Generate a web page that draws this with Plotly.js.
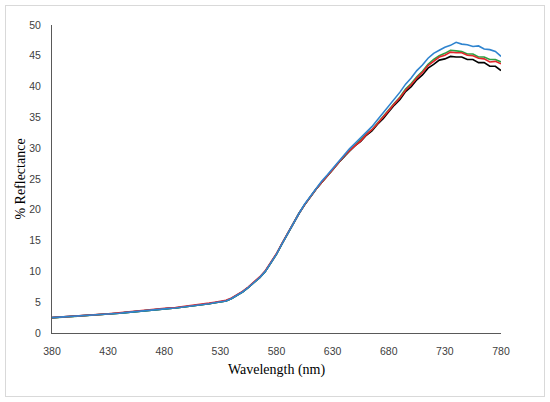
<!DOCTYPE html>
<html>
<head>
<meta charset="utf-8">
<script src="https://cdn.plot.ly/plotly-3.0.1.min.js"></script>
<style>
html,body{margin:0;padding:0;background:#fff;}
#wrap{position:relative;width:550px;height:402px;}
#chart{width:550px;height:402px;}
#frame{position:absolute;left:5px;top:5px;width:538px;height:390px;border:1px solid #d9d9d9;pointer-events:none;}
</style>
</head>
<body>
<div id="wrap"><div id="chart"></div><div id="frame"></div></div>
<script>
const wavelength = [380,385,390,395,400,405,410,415,420,425,430,435,440,445,450,455,460,465,470,475,480,485,490,495,500,505,510,515,520,525,530,535,540,545,550,555,560,565,570,575,580,585,590,595,600,605,610,615,620,625,630,635,640,645,650,655,660,665,670,675,680,685,690,695,700,705,710,715,720,725,730,735,740,745,750,755,760,765,770,775,780];

const seriesBlack = [2.5,2.55,2.6,2.65,2.7,2.75,2.8,2.85,2.9,2.95,3.0,3.1,3.2,3.3,3.4,3.5,3.6,3.7,3.75,3.85,3.9,4.0,4.05,4.15,4.25,4.35,4.45,4.6,4.75,4.9,5.0,5.2,5.6,6.1,6.7,7.4,8.2,9.0,10.0,11.3,12.8,14.5,16.2,17.9,19.4,20.8,22.1,23.3,24.4,25.4,26.5,27.6,28.6,29.5,30.4,31.1,32.1,32.8,33.9,34.8,35.9,37.0,37.9,39.2,40.0,41.1,41.9,43.0,43.6,44.3,44.5,44.9,44.8,44.8,44.4,44.4,43.9,43.9,43.3,43.3,42.6];

const seriesGreen = [2.45,2.55,2.6,2.65,2.7,2.75,2.8,2.85,2.9,2.95,3.0,3.1,3.2,3.3,3.4,3.5,3.6,3.7,3.75,3.85,3.9,4.0,4.05,4.15,4.25,4.35,4.45,4.6,4.75,4.9,5.0,5.2,5.6,6.1,6.7,7.4,8.2,9.0,10.0,11.3,12.8,14.5,16.2,17.9,19.4,20.8,22.1,23.3,24.4,25.4,26.5,27.6,28.7,29.6,30.5,31.3,32.3,33.0,34.1,35.1,36.2,37.3,38.3,39.6,40.5,41.6,42.5,43.6,44.4,45.0,45.4,45.9,45.8,45.7,45.3,45.3,44.8,44.8,44.4,44.4,44.0];

const seriesRed = [2.5,2.55,2.6,2.65,2.7,2.75,2.8,2.85,2.9,2.95,3.1,3.2,3.3,3.4,3.5,3.6,3.7,3.8,3.85,3.95,4.0,4.1,4.15,4.25,4.35,4.45,4.55,4.7,4.85,5.0,5.1,5.3,5.7,6.2,6.8,7.5,8.3,9.1,10.1,11.4,12.9,14.6,16.2,17.9,19.4,20.8,22.1,23.3,24.4,25.4,26.5,27.6,28.7,29.6,30.4,31.2,32.2,33.0,34.0,35.0,36.1,37.2,38.2,39.4,40.3,41.4,42.3,43.4,44.1,44.8,45.1,45.6,45.5,45.5,45.1,45.0,44.6,44.5,44.0,44.1,43.7];

const seriesBlue = [2.5,2.55,2.6,2.65,2.7,2.75,2.8,2.85,2.9,2.95,3.0,3.1,3.2,3.3,3.4,3.5,3.6,3.7,3.75,3.85,3.9,4.0,4.05,4.15,4.25,4.35,4.45,4.6,4.75,4.9,5.0,5.2,5.6,6.1,6.7,7.4,8.2,9.0,10.0,11.3,12.8,14.5,16.2,17.9,19.4,20.9,22.2,23.4,24.6,25.6,26.7,27.8,28.9,29.9,30.8,31.7,32.7,33.5,34.6,35.7,36.8,38.0,39.1,40.4,41.4,42.6,43.5,44.6,45.4,45.9,46.4,46.7,47.2,46.9,46.8,46.5,46.6,46.1,46.0,45.7,44.9];

const xTicks = [380,430,480,530,580,630,680,730,780];
const yTicks = [0,5,10,15,20,25,30,35,40,45,50];

const series = [
  {y: seriesBlack, color: '#000000'},
  {y: seriesGreen, color: '#2ea043'},
  {y: seriesRed, color: '#e3262b'},
  {y: seriesBlue, color: '#2f84cf'}
];

const traces = series.map(s => ({
  x: wavelength, y: s.y, type: 'scatter', mode: 'lines',
  line: {color: s.color, width: 1.6}, hoverinfo: 'skip', showlegend: false
}));

const tickFont = {family: 'Liberation Sans, Arial, sans-serif', size: 10.5, color: '#404040'};
const titleFont = {family: 'Liberation Serif, Times New Roman, serif', size: 14, color: '#000000'};

const layout = {
  width: 550, height: 402,
  margin: {l: 52, r: 49, t: 25, b: 69, pad: 0},
  paper_bgcolor: '#ffffff', plot_bgcolor: '#ffffff',
  showlegend: false,
  xaxis: {
    range: [380, 780], tickmode: 'array', tickvals: xTicks, ticktext: xTicks.map(String),
    showline: true, linecolor: '#595959', linewidth: 1, showgrid: false, zeroline: false,
    ticks: '', tickfont: tickFont, ticklabelstandoff: 8,
    title: {text: 'Wavelength (nm)', font: titleFont, standoff: 8}
  },
  yaxis: {
    range: [0, 50], tickmode: 'array', tickvals: yTicks, ticktext: yTicks.map(String),
    showline: true, linecolor: '#595959', linewidth: 1, showgrid: false, zeroline: false,
    ticks: '', tickfont: tickFont, ticklabelstandoff: 8,
    title: {text: '% Reflectance', font: titleFont, standoff: 0}
  }
};

Plotly.newPlot('chart', traces, layout, {staticPlot: true, displayModeBar: false});
</script>
</body>
</html>
